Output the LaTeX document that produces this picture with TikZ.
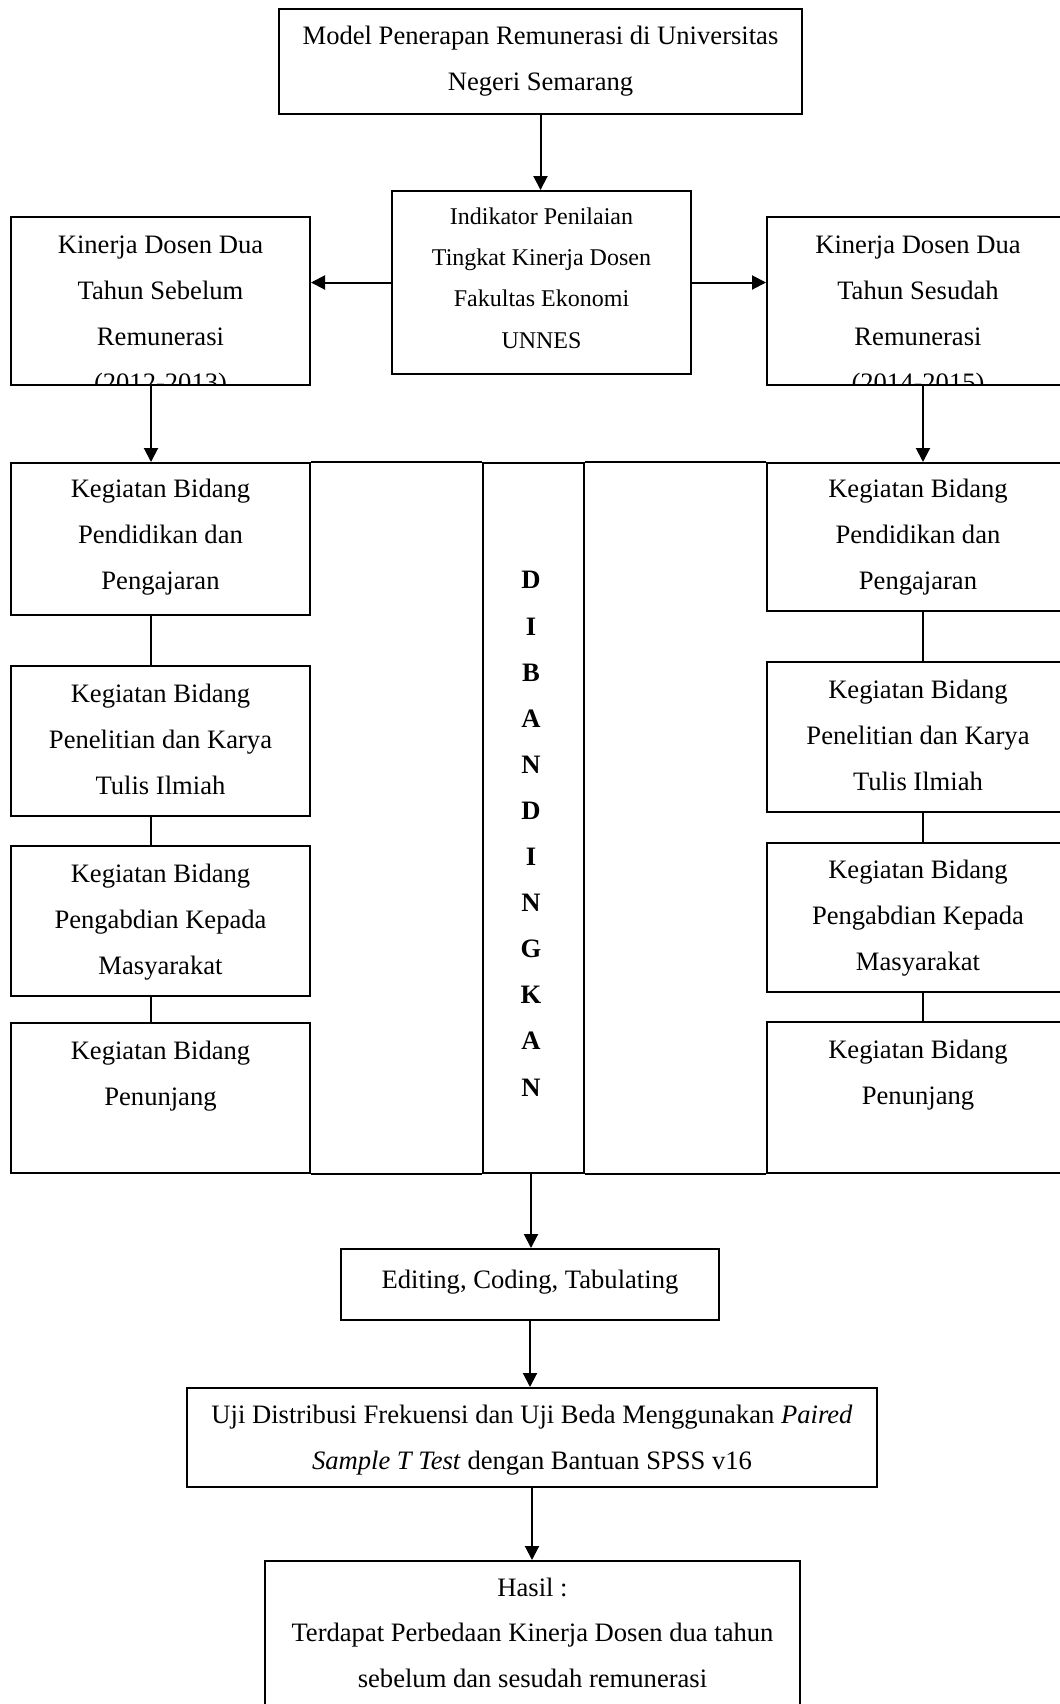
\documentclass[tikz,border=0pt]{standalone}
\usepackage{fontspec}
\setmainfont{Liberation Serif}
\usetikzlibrary{arrows.meta}
\tikzset{
  box/.style={draw, line width=1pt, rectangle, inner sep=0pt},
  txt/.style={align=center, anchor=base, inner sep=0pt, font=\fontsize{13.3}{23}\selectfont},
  smalltxt/.style={align=center, anchor=base, inner sep=0pt, font=\fontsize{12}{20.6}\selectfont},
  conn/.style={line width=1pt},
  arr/.style={line width=1pt, -{Triangle[length=7pt,width=7pt]}},
}
\newcommand\mkbox[5]{\node[box, minimum width={(#4-#2)*0.5pt}, minimum height={(#5-#3)*0.5pt}] (#1) at ({(#2+#4)/2},{(#3+#5)/2}) {};}
\begin{document}
\begin{tikzpicture}[x=0.5pt,y=-0.5pt]
\useasboundingbox (0,0) rectangle (1060,1704);
\clip (0,0) rectangle (1060,1704);
% boxes
\mkbox{top}{279}{9}{802}{114}
\mkbox{ind}{392}{191}{691}{374}
\mkbox{kl}{11}{217}{310}{385}
\mkbox{kr}{767}{217}{1069}{385}
\mkbox{la}{11}{463}{310}{615}
\mkbox{lb}{11}{666}{310}{816}
\mkbox{lc}{11}{846}{310}{996}
\mkbox{ld}{11}{1023}{310}{1173}
\mkbox{ra}{767}{463}{1069}{611}
\mkbox{rb}{767}{662}{1069}{812}
\mkbox{rc}{767}{843}{1069}{992}
\mkbox{rd}{767}{1022}{1069}{1173}
\mkbox{col}{483}{463}{584}{1173}
\mkbox{edit}{341}{1249}{719}{1320}
\mkbox{uji}{187}{1388}{877}{1487}
\mkbox{hasil}{265}{1561}{800}{1730}
% texts (anchor=base is the baseline of the last line)
\node[txt] (ttop) at (540.5,90) {Model Penerapan Remunerasi di Universitas\\Negeri Semarang};
\node[smalltxt] (tind) at (541.5,348) {Indikator Penilaian\\Tingkat Kinerja Dosen\\Fakultas Ekonomi\\UNNES};
\begin{scope}
  \clip (12,218) rectangle (309,384);
  \node[txt] (tkl) at (160.5,391) {Kinerja Dosen Dua\\Tahun Sebelum\\Remunerasi\\(2012-2013)};
\end{scope}
\begin{scope}
  \clip (768,218) rectangle (1068,384);
  \node[txt] (tkr) at (918,391) {Kinerja Dosen Dua\\Tahun Sesudah\\Remunerasi\\(2014-2015)};
\end{scope}
\node[txt] (tla) at (160.5,589) {Kegiatan Bidang\\Pendidikan dan\\Pengajaran};
\node[txt] (tlb) at (160.5,794) {Kegiatan Bidang\\Penelitian dan Karya\\Tulis Ilmiah};
\node[txt] (tlc) at (160.5,974) {Kegiatan Bidang\\Pengabdian Kepada\\Masyarakat};
\node[txt] (tld) at (160.5,1105) {Kegiatan Bidang\\Penunjang};
\node[txt] (tra) at (918,589) {Kegiatan Bidang\\Pendidikan dan\\Pengajaran};
\node[txt] (trb) at (918,790) {Kegiatan Bidang\\Penelitian dan Karya\\Tulis Ilmiah};
\node[txt] (trc) at (918,970) {Kegiatan Bidang\\Pengabdian Kepada\\Masyarakat};
\node[txt] (trd) at (918,1104) {Kegiatan Bidang\\Penunjang};
\node[txt, font=\fontsize{13.3}{23.05}\selectfont\bfseries] (tcol) at (531,1096) {D\\I\\B\\A\\N\\D\\I\\N\\G\\K\\A\\N};
\node[txt] (tedit) at (530,1288) {Editing, Coding, Tabulating};
\node[txt] (tuji) at (532,1469) {Uji Distribusi Frekuensi dan Uji Beda Menggunakan \textit{Paired}\\\textit{Sample T Test} dengan Bantuan SPSS v16};
\node[txt, font=\fontsize{13.3}{22.75}\selectfont] (thasil) at (532.5,1687) {Hasil :\\Terdapat Perbedaan Kinerja Dosen dua tahun\\sebelum dan sesudah remunerasi};
% connectors
\draw[arr] (top.south) -- (top.south |- ind.north);
\draw[arr] (ind.west) -- (ind.west -| kl.east);
\draw[arr] (ind.east) -- (ind.east -| kr.west);
\draw[arr] ([xshift=-4.75pt]kl.south) -- ([xshift=-4.75pt]la.north);
\draw[arr] ([xshift=2.5pt]kr.south) -- ([xshift=2.5pt]ra.north);
\draw[conn] ([xshift=-4.75pt]la.south) -- ([xshift=-4.75pt]lb.north);
\draw[conn] ([xshift=-4.75pt]lb.south) -- ([xshift=-4.75pt]lc.north);
\draw[conn] ([xshift=-4.75pt]lc.south) -- ([xshift=-4.75pt]ld.north);
\draw[conn] ([xshift=2.5pt]ra.south) -- ([xshift=2.5pt]rb.north);
\draw[conn] ([xshift=2.5pt]rb.south) -- ([xshift=2.5pt]rc.north);
\draw[conn] ([xshift=2.5pt]rc.south) -- ([xshift=2.5pt]rd.north);
\draw[conn] (la.north east) -- (col.north west);
\draw[conn] (col.north east) -- (ra.north west);
\draw[conn] (ld.south east) -- (col.south west);
\draw[conn] (col.south east) -- (rd.south west);
\draw[arr] ([xshift=-1.25pt]col.south) -- ([xshift=-1.25pt]col.south |- edit.north);
\draw[arr] (edit.south) -- (edit.south |- uji.north);
\draw[arr] (uji.south) -- (uji.south |- hasil.north);
\end{tikzpicture}
\end{document}
